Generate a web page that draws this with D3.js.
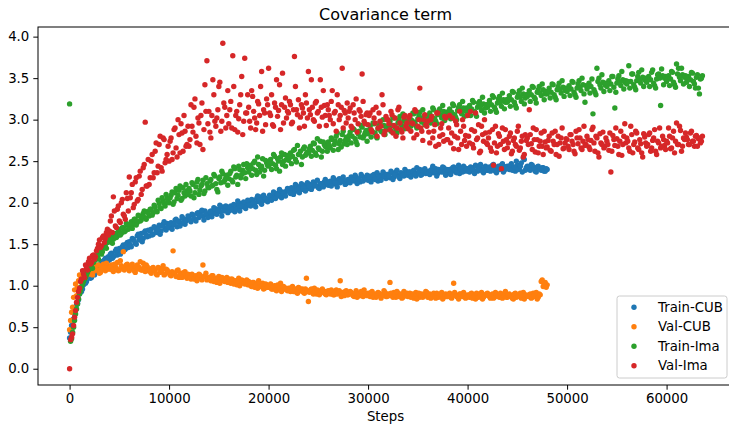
<!DOCTYPE html>
<html lang="en">
<head>
<meta charset="UTF-8">
<title>Covariance term</title>
<script src="https://d3js.org/d3.v7.min.js"></script>
<style>
    body { margin: 0; background: #fff; }
    svg { display: block; font-family: "DejaVu Sans", sans-serif; }
</style>
</head>
<body>
<div id="chart"></div>
<script>
// logged every 100 steps: "A" arrays hold the even hundreds, "B" arrays the odd ones
var stepsA = d3.range(0, 63601, 200);
var stepsB = d3.range(100, 63600, 200);

var trainCubA = [
    0.37, 0.52, 0.60, 0.73, 0.79, 0.90, 0.93, 1.01, 1.03, 1.09,
    1.12, 1.10, 1.18, 1.16, 1.23, 1.22, 1.29, 1.26, 1.33, 1.30,
    1.31, 1.39, 1.35, 1.42, 1.37, 1.45, 1.41, 1.49, 1.44, 1.52,
    1.53, 1.47, 1.56, 1.51, 1.60, 1.55, 1.63, 1.57, 1.66, 1.59,
    1.60, 1.68, 1.62, 1.70, 1.64, 1.73, 1.66, 1.74, 1.69, 1.75,
    1.70, 1.76, 1.73, 1.79, 1.71, 1.78, 1.75, 1.81, 1.74, 1.80,
    1.83, 1.77, 1.85, 1.80, 1.87, 1.82, 1.89, 1.84, 1.90, 1.85,
    1.85, 1.90, 1.88, 1.93, 1.86, 1.92, 1.89, 1.95, 1.91, 1.94,
    1.90, 1.96, 1.93, 1.89, 1.97, 1.94, 1.99, 1.95, 2.00, 1.97,
    2.01, 1.96, 2.03, 1.99, 2.05, 2.01, 2.07, 2.02, 2.06, 2.04,
    2.04, 2.08, 2.06, 2.11, 2.07, 2.12, 2.09, 2.13, 2.10, 2.14,
    2.15, 2.11, 2.17, 2.13, 2.19, 2.15, 2.20, 2.16, 2.21, 2.18,
    2.17, 2.22, 2.19, 2.24, 2.20, 2.18, 2.23, 2.21, 2.25, 2.22,
    2.21, 2.26, 2.23, 2.28, 2.22, 2.27, 2.24, 2.29, 2.25, 2.23,
    2.28, 2.24, 2.30, 2.26, 2.31, 2.27, 2.25, 2.32, 2.28, 2.30,
    2.27, 2.32, 2.29, 2.34, 2.30, 2.26, 2.33, 2.31, 2.35, 2.29,
    2.34, 2.30, 2.36, 2.31, 2.37, 2.33, 2.29, 2.35, 2.32, 2.38,
    2.33, 2.37, 2.35, 2.39, 2.32, 2.36, 2.40, 2.34, 2.38, 2.35,
    2.38, 2.34, 2.40, 2.36, 2.41, 2.35, 2.39, 2.37, 2.42, 2.33,
    2.36, 2.40, 2.38, 2.43, 2.37, 2.41, 2.35, 2.39, 2.44, 2.38,
    2.41, 2.37, 2.42, 2.39, 2.45, 2.38, 2.43, 2.40, 2.36, 2.44,
    2.39, 2.43, 2.41, 2.46, 2.38, 2.42, 2.40, 2.45, 2.37, 2.43,
    2.44, 2.40, 2.47, 2.42, 2.38, 2.45, 2.41, 2.48, 2.54, 2.39,
    2.44, 2.40, 2.46, 2.42, 2.38, 2.43, 2.41, 2.39, 2.42, 2.38,
    2.40
];
var trainCubB = [
    0.44, 0.58, 0.66, 0.77, 0.83, 0.92, 0.96, 1.04, 1.05, 1.11,
    1.09, 1.17, 1.13, 1.21, 1.25, 1.19, 1.24, 1.31, 1.27, 1.35,
    1.38, 1.33, 1.36, 1.44, 1.40, 1.38, 1.47, 1.43, 1.50, 1.46,
    1.49, 1.57, 1.54, 1.50, 1.62, 1.58, 1.53, 1.64, 1.61, 1.67,
    1.66, 1.61, 1.71, 1.65, 1.68, 1.62, 1.72, 1.77, 1.67, 1.71,
    1.75, 1.68, 1.74, 1.80, 1.77, 1.72, 1.83, 1.76, 1.78, 1.84,
    1.79, 1.86, 1.81, 1.78, 1.88, 1.84, 1.91, 1.79, 1.87, 1.82,
    1.89, 1.83, 1.94, 1.87, 1.91, 1.97, 1.84, 1.90, 1.96, 1.88,
    1.95, 1.91, 1.98, 1.92, 2.02, 1.90, 1.96, 2.01, 1.93, 2.03,
    1.97, 2.04, 2.00, 1.95, 2.08, 2.03, 1.98, 2.09, 2.05, 2.01,
    2.09, 2.03, 2.13, 2.05, 2.10, 2.16, 2.06, 2.11, 2.08, 2.17,
    2.13, 2.18, 2.10, 2.22, 2.16, 2.12, 2.23, 2.18, 2.14, 2.24,
    2.20, 2.16, 2.25, 2.21, 2.27, 2.17, 2.23, 2.19, 2.28, 2.24,
    2.25, 2.20, 2.30, 2.24, 2.19, 2.29, 2.26, 2.31, 2.22, 2.27,
    2.25, 2.31, 2.27, 2.33, 2.23, 2.29, 2.34, 2.26, 2.30, 2.33,
    2.31, 2.25, 2.33, 2.28, 2.36, 2.31, 2.27, 2.37, 2.32, 2.34,
    2.32, 2.38, 2.28, 2.34, 2.39, 2.31, 2.36, 2.33, 2.40, 2.35,
    2.37, 2.31, 2.38, 2.34, 2.42, 2.36, 2.33, 2.39, 2.41, 2.36,
    2.35, 2.39, 2.44, 2.37, 2.32, 2.40, 2.38, 2.43, 2.36, 2.40,
    2.39, 2.34, 2.42, 2.40, 2.36, 2.45, 2.41, 2.37, 2.42, 2.40,
    2.38, 2.43, 2.40, 2.35, 2.44, 2.41, 2.46, 2.38, 2.42, 2.39,
    2.42, 2.38, 2.45, 2.40, 2.36, 2.44, 2.41, 2.47, 2.39, 2.43,
    2.41, 2.45, 2.39, 2.43, 2.50, 2.40, 2.44, 2.37, 2.52, 2.42,
    2.43, 2.39, 2.45, 2.41, 2.37, 2.44, 2.40, 2.42, 2.38, 2.41
];

var valCubA = [
    0.47, 0.68, 0.86, 1.02, 0.98, 1.13, 1.08, 1.15, 1.10, 1.17,
    1.14, 1.21, 1.17, 1.24, 1.19, 1.15, 1.22, 1.26, 1.18, 1.23,
    1.20, 1.25, 1.17, 1.23, 1.28, 1.19, 1.24, 1.41, 1.21, 1.26,
    1.18, 1.24, 1.21, 1.16, 1.25, 1.22, 1.19, 1.27, 1.17, 1.23,
    1.20, 1.15, 1.22, 1.18, 1.13, 1.21, 1.17, 1.24, 1.14, 1.19,
    1.16, 1.12, 1.42, 1.14, 1.18, 1.10, 1.15, 1.11, 1.17, 1.09,
    1.13, 1.08, 1.12, 1.10, 1.06, 1.14, 1.09, 1.25, 1.11, 1.07,
    1.10, 1.06, 1.12, 1.08, 1.04, 1.11, 1.07, 1.09, 1.05, 1.10,
    1.08, 1.03, 1.07, 1.05, 1.01, 1.09, 1.04, 1.06, 1.02, 1.07,
    1.05, 1.00, 1.04, 0.98, 1.02, 1.06, 0.99, 1.03, 0.97, 1.01,
    0.98, 1.02, 0.96, 1.00, 0.94, 0.99, 1.03, 0.95, 0.98, 0.96,
    0.97, 0.93, 0.99, 0.95, 0.92, 0.98, 0.94, 0.96, 0.91, 1.09,
    0.81, 0.95, 0.92, 0.97, 0.90, 0.94, 0.91, 0.96, 0.93, 0.89,
    0.94, 0.90, 0.93, 0.89, 0.95, 0.91, 1.06, 0.92, 0.88, 0.94,
    0.89, 0.93, 0.90, 0.87, 0.94, 0.91, 0.88, 0.92, 0.95, 0.89,
    0.91, 0.87, 0.93, 0.89, 0.86, 0.92, 0.90, 0.88, 0.94, 0.87,
    0.90, 1.04, 0.88, 0.92, 0.86, 0.91, 0.89, 0.85, 0.93, 0.88,
    0.87, 0.91, 0.88, 0.85, 0.92, 0.89, 0.86, 0.90, 0.88, 0.93,
    0.86, 0.90, 0.87, 0.91, 0.85, 0.89, 0.88, 0.92, 0.86, 0.90,
    0.87, 0.91, 0.85, 1.03, 0.89, 0.86, 0.90, 0.88, 0.92, 0.85,
    0.89, 0.86, 0.91, 0.88, 0.84, 0.90, 0.87, 0.92, 0.86, 0.89,
    0.91, 0.87, 0.89, 0.85, 0.92, 0.88, 0.86, 0.90, 0.87, 0.93,
    0.86, 0.90, 0.88, 0.84, 0.91, 0.87, 0.89, 0.85, 0.92, 0.88,
    0.88, 0.89, 0.85, 0.91, 0.87, 0.84, 0.90, 1.05, 0.99, 1.04,
    1.01
];
var valCubB = [
    0.58, 0.74, 0.95, 0.88, 1.06, 1.12, 1.03, 1.18, 1.13, 1.20,
    1.18, 1.13, 1.22, 1.19, 1.25, 1.16, 1.21, 1.23, 1.27, 1.20,
    1.23, 1.19, 1.26, 1.21, 1.18, 1.30, 1.22, 1.19, 1.25, 1.21,
    1.21, 1.26, 1.18, 1.23, 1.20, 1.29, 1.19, 1.22, 1.25, 1.18,
    1.17, 1.21, 1.19, 1.14, 1.22, 1.16, 1.19, 1.13, 1.20, 1.17,
    1.13, 1.17, 1.15, 1.11, 1.19, 1.13, 1.10, 1.16, 1.12, 1.14,
    1.10, 1.14, 1.08, 1.12, 1.09, 1.13, 1.07, 1.11, 1.15, 1.08,
    1.08, 1.12, 1.05, 1.09, 1.07, 1.03, 1.10, 1.06, 1.08, 1.04,
    1.05, 1.08, 1.02, 1.06, 1.04, 1.00, 1.07, 1.03, 1.05, 1.01,
    1.02, 0.99, 1.04, 1.01, 0.97, 1.03, 1.00, 0.96, 1.02, 0.98,
    1.00, 0.96, 0.99, 0.95, 1.01, 0.97, 0.93, 0.99, 0.96, 0.94,
    0.95, 0.98, 0.93, 0.96, 0.91, 0.97, 0.94, 0.92, 0.96, 0.93,
    0.92, 0.96, 0.90, 0.93, 0.95, 0.89, 0.92, 0.94, 0.90, 0.93,
    0.91, 0.95, 0.89, 0.92, 0.90, 0.94, 0.87, 0.91, 0.93, 0.89,
    0.90, 0.92, 0.88, 0.91, 0.86, 0.90, 0.93, 0.87, 0.91, 0.88,
    0.89, 0.92, 0.86, 0.90, 0.88, 0.91, 0.85, 0.89, 0.92, 0.87,
    0.88, 0.91, 0.86, 0.89, 0.93, 0.87, 0.90, 0.86, 0.88, 0.91,
    0.89, 0.86, 0.90, 0.87, 0.84, 0.91, 0.88, 0.86, 0.89, 0.92,
    0.88, 0.85, 0.89, 0.87, 0.91, 0.86, 0.90, 0.84, 0.88, 0.87,
    0.89, 0.86, 0.88, 0.92, 0.87, 0.84, 0.90, 0.87, 0.89, 0.86,
    0.87, 0.90, 0.85, 0.88, 0.91, 0.86, 0.89, 0.84, 0.88, 0.90,
    0.88, 0.85, 0.90, 0.86, 0.89, 0.87, 0.91, 0.85, 0.88, 0.86,
    0.89, 0.87, 0.85, 0.90, 0.86, 0.88, 0.91, 0.87, 0.84, 0.89,
    0.87, 0.90, 0.86, 0.88, 0.92, 0.86, 0.89, 1.07, 1.02, 0.98
];

var trainImaA = [
    3.19, 0.36, 0.50, 0.66, 0.78, 0.90, 0.99, 1.05, 1.10, 1.16,
    1.20, 1.26, 1.28, 1.33, 1.34, 1.40, 1.38, 1.46, 1.47, 1.52,
    1.53, 1.58, 1.56, 1.63, 1.60, 1.66, 1.63, 1.70, 1.66, 1.73,
    1.70, 1.77, 1.74, 1.80, 1.76, 1.84, 1.79, 1.87, 1.82, 1.89,
    1.84, 1.92, 1.88, 1.95, 1.89, 1.99, 1.93, 2.02, 1.96, 2.05,
    2.00, 2.09, 1.98, 2.12, 2.05, 2.15, 2.03, 2.18, 2.08, 2.14,
    2.17, 2.08, 2.22, 2.12, 2.25, 2.10, 2.20, 2.27, 2.14, 2.23,
    2.18, 2.28, 2.21, 2.32, 2.16, 2.29, 2.24, 2.35, 2.27, 2.33,
    2.29, 2.38, 2.25, 2.41, 2.33, 2.44, 2.30, 2.39, 2.36, 2.47,
    2.37, 2.45, 2.41, 2.50, 2.34, 2.46, 2.42, 2.53, 2.39, 2.48,
    2.44, 2.52, 2.47, 2.56, 2.41, 2.50, 2.55, 2.46, 2.58, 2.52,
    2.51, 2.60, 2.56, 2.64, 2.49, 2.58, 2.62, 2.55, 2.67, 2.59,
    2.60, 2.68, 2.63, 2.71, 2.57, 2.66, 2.74, 2.62, 2.70, 2.67,
    2.73, 2.66, 2.76, 2.70, 2.80, 2.64, 2.75, 2.82, 2.71, 2.79,
    2.76, 2.85, 2.80, 2.88, 2.73, 2.83, 2.79, 2.91, 2.81, 2.87,
    2.83, 2.92, 2.86, 2.95, 2.80, 2.89, 2.97, 2.85, 2.93, 2.88,
    2.90, 2.98, 2.93, 3.02, 2.87, 2.96, 3.04, 2.92, 2.99, 2.95,
    2.96, 3.03, 2.99, 3.07, 2.93, 3.01, 3.09, 2.97, 3.04, 3.00,
    3.01, 3.08, 3.04, 3.12, 2.98, 3.06, 3.13, 3.02, 3.10, 3.05,
    3.06, 3.13, 3.09, 3.17, 3.03, 3.11, 3.18, 3.07, 3.14, 3.10,
    3.10, 3.17, 3.13, 3.21, 3.07, 3.15, 3.22, 3.11, 3.19, 3.14,
    3.15, 3.23, 3.18, 3.27, 3.12, 3.20, 3.28, 3.16, 3.24, 3.21,
    3.21, 3.29, 3.24, 3.33, 3.17, 3.27, 3.35, 3.22, 3.31, 3.26,
    3.28, 3.35, 3.30, 3.39, 3.25, 3.33, 3.40, 3.29, 3.36, 3.31,
    3.31, 3.38, 3.33, 3.42, 3.27, 3.36, 3.44, 3.32, 3.39, 3.35,
    3.34, 3.41, 3.37, 3.45, 3.30, 3.38, 3.47, 3.35, 3.42, 3.21,
    3.37, 3.44, 3.40, 3.07, 3.33, 3.62, 3.50, 3.38, 3.45, 3.42,
    3.40, 3.47, 3.43, 3.52, 3.14, 3.44, 3.53, 3.41, 3.48, 3.45,
    3.43, 3.65, 3.46, 3.55, 3.39, 3.47, 3.57, 3.44, 3.51, 3.48,
    3.45, 3.52, 3.48, 3.60, 3.41, 3.49, 3.55, 3.17, 3.53, 3.50,
    3.46, 3.53, 3.49, 3.57, 3.42, 3.67, 3.62, 3.47, 3.54, 3.51,
    3.45, 3.52, 3.48, 3.56, 3.43, 3.51, 3.38, 3.49, 3.53
];
var trainImaB = [
    0.33, 0.44, 0.58, 0.72, 0.84, 0.94, 1.02, 1.08, 1.13, 1.19,
    1.24, 1.21, 1.30, 1.36, 1.32, 1.43, 1.41, 1.49, 1.45, 1.55,
    1.57, 1.51, 1.62, 1.58, 1.68, 1.61, 1.70, 1.65, 1.75, 1.68,
    1.74, 1.69, 1.80, 1.73, 1.85, 1.78, 1.83, 1.90, 1.80, 1.88,
    1.92, 1.85, 1.97, 1.90, 2.03, 1.94, 2.06, 1.99, 2.10, 2.01,
    2.06, 2.13, 2.01, 2.17, 2.09, 2.20, 2.05, 2.12, 2.22, 2.10,
    2.14, 2.24, 2.06, 2.19, 2.28, 2.15, 2.22, 2.11, 2.30, 2.19,
    2.26, 2.20, 2.34, 2.23, 2.13, 2.31, 2.38, 2.25, 2.30, 2.21,
    2.35, 2.27, 2.43, 2.31, 2.22, 2.40, 2.34, 2.46, 2.29, 2.42,
    2.43, 2.33, 2.48, 2.39, 2.55, 2.37, 2.44, 2.32, 2.51, 2.45,
    2.49, 2.40, 2.58, 2.45, 2.53, 2.38, 2.60, 2.50, 2.44, 2.57,
    2.54, 2.47, 2.63, 2.52, 2.69, 2.58, 2.46, 2.65, 2.57, 2.61,
    2.65, 2.56, 2.72, 2.60, 2.77, 2.64, 2.55, 2.73, 2.68, 2.62,
    2.69, 2.78, 2.63, 2.74, 2.84, 2.71, 2.67, 2.86, 2.75, 2.70,
    2.81, 2.72, 2.89, 2.77, 2.70, 2.86, 2.93, 2.78, 2.84, 2.74,
    2.87, 2.79, 2.96, 2.84, 2.78, 2.93, 2.86, 3.00, 2.82, 2.91,
    2.94, 2.86, 3.03, 2.91, 2.84, 3.00, 2.95, 3.07, 2.89, 2.98,
    3.00, 2.92, 3.08, 2.97, 2.90, 3.06, 3.01, 3.12, 2.94, 3.04,
    3.05, 2.96, 3.14, 3.01, 2.95, 3.10, 3.06, 3.17, 2.99, 3.09,
    3.10, 3.01, 3.19, 3.06, 3.00, 3.15, 3.11, 3.22, 3.04, 3.14,
    3.14, 3.05, 3.23, 3.10, 3.04, 3.20, 3.16, 3.27, 3.08, 3.18,
    3.19, 3.10, 3.29, 3.15, 3.09, 3.25, 3.21, 3.32, 3.13, 3.24,
    3.25, 3.16, 3.34, 3.21, 3.14, 3.31, 3.27, 3.38, 3.19, 3.30,
    3.31, 3.22, 3.40, 3.27, 3.20, 3.36, 3.32, 3.43, 3.24, 3.34,
    3.34, 3.26, 3.43, 3.30, 3.24, 3.40, 3.36, 3.47, 3.28, 3.38,
    3.37, 3.29, 3.46, 3.33, 3.27, 3.43, 3.39, 3.50, 3.31, 3.41,
    3.40, 3.32, 3.49, 3.36, 3.30, 3.46, 3.42, 3.54, 3.34, 3.44,
    3.43, 3.35, 3.52, 3.39, 3.33, 3.49, 3.45, 3.58, 3.37, 3.47,
    3.46, 3.38, 3.55, 3.42, 3.36, 3.52, 3.48, 3.60, 3.40, 3.50,
    3.48, 3.40, 3.57, 3.44, 3.38, 3.54, 3.50, 3.61, 3.42, 3.52,
    3.49, 3.41, 3.58, 3.45, 3.39, 3.55, 3.51, 3.62, 3.43, 3.53,
    3.48, 3.40, 3.57, 3.46, 3.38, 3.54, 3.31, 3.50
];

var valImaA = [
    0.00, 0.38, 0.52, 0.70, 0.86, 0.97, 1.08, 1.14, 1.25, 1.19,
    1.33, 1.28, 1.37, 1.35, 1.45, 1.55, 1.48, 1.60, 1.57, 1.68,
    1.66, 1.84, 2.07, 1.72, 1.92, 1.78, 2.00, 1.86, 1.80, 2.05,
    2.31, 2.12, 1.94, 2.25, 2.02, 2.32, 2.10, 2.42, 2.97, 2.20,
    2.22, 2.50, 2.30, 2.62, 2.36, 2.70, 2.42, 2.78, 2.48, 2.58,
    2.50, 2.78, 2.60, 2.90, 2.55, 2.82, 2.95, 2.62, 2.86, 2.70,
    2.68, 3.18, 2.85, 3.25, 2.72, 2.96, 3.05, 2.64, 3.42, 3.71,
    3.10, 2.78, 3.48, 2.98, 3.02, 3.40, 2.86, 3.92, 3.15, 3.05,
    2.95, 3.22, 3.77, 2.88, 3.10, 3.01, 3.30, 2.82, 3.74, 3.08,
    3.15, 2.90, 3.28, 3.02, 2.96, 3.19, 3.40, 2.86, 3.08, 3.25,
    3.62, 3.05, 2.94, 3.20, 3.48, 3.11, 2.88, 3.56, 3.15, 3.02,
    3.08, 3.18, 2.97, 3.76, 3.12, 3.24, 3.03, 3.14, 2.92, 3.20,
    3.58, 3.06, 3.15, 2.98, 3.22, 3.10, 3.48, 3.03, 3.17, 2.93,
    3.12, 3.00, 3.35, 3.08, 2.86, 3.18, 3.05, 3.62, 3.11, 2.96,
    3.02, 3.14, 2.90, 3.08, 3.25, 2.95, 3.10, 3.55, 2.98, 3.06,
    2.94, 3.08, 2.85, 3.02, 3.15, 2.90, 2.98, 3.30, 2.82, 3.04,
    3.00, 2.88, 3.06, 2.93, 2.80, 3.12, 2.96, 2.85, 3.03, 2.92,
    2.89, 3.05, 2.96, 2.78, 3.10, 2.92, 3.38, 2.86, 3.00, 2.94,
    2.98, 2.72, 3.04, 2.86, 2.68, 3.08, 2.80, 2.95, 2.74, 3.02,
    2.76, 3.05, 2.84, 2.65, 2.98, 2.78, 3.10, 2.70, 2.92, 2.81,
    3.05, 2.72, 2.88, 2.66, 3.08, 2.78, 2.60, 2.92, 2.74, 2.84,
    2.70, 2.85, 2.62, 2.45, 2.92, 2.68, 2.80, 2.41, 2.74, 2.88,
    2.66, 2.80, 2.59, 2.75, 2.70, 2.86, 2.63, 2.74, 2.55, 2.82,
    2.78, 3.12, 2.71, 2.90, 2.61, 2.76, 2.68, 2.84, 2.58, 2.73,
    2.67, 2.80, 2.62, 2.74, 2.86, 2.70, 2.56, 2.78, 2.65, 2.72,
    2.76, 2.64, 2.82, 2.70, 2.59, 2.78, 2.88, 2.66, 2.74, 2.69,
    2.80, 2.67, 2.75, 2.91, 2.62, 2.78, 2.55, 2.72, 2.85, 2.68,
    2.74, 2.63, 2.37, 2.81, 2.69, 2.77, 2.58, 2.86, 2.70, 2.95,
    2.78, 2.66, 2.92, 2.60, 2.73, 2.84, 2.64, 2.71, 2.55, 2.79,
    2.68, 2.82, 2.62, 2.75, 2.88, 2.58, 2.72, 2.66, 2.80, 2.69,
    2.74, 2.90, 2.65, 2.78, 2.60, 2.96, 2.70, 2.87, 2.68, 2.76,
    2.79, 2.70, 2.84, 2.74, 2.68, 2.81, 2.77, 2.72, 2.80
];
var valImaB = [
    0.35, 0.42, 0.62, 0.80, 0.93, 1.05, 1.18, 1.10, 1.22, 1.29,
    1.26, 1.36, 1.32, 1.42, 1.50, 1.46, 1.58, 1.52, 1.64, 1.61,
    1.78, 1.64, 1.90, 1.70, 1.96, 1.76, 2.04, 1.84, 2.12, 1.90,
    2.06, 2.22, 1.98, 2.30, 2.04, 2.38, 2.16, 2.46, 2.20, 2.52,
    2.30, 2.58, 2.36, 2.72, 2.44, 2.80, 2.38, 2.76, 2.52, 2.68,
    2.74, 2.52, 2.88, 2.66, 3.00, 2.60, 2.84, 3.05, 2.68, 2.92,
    2.76, 2.92, 3.15, 2.80, 3.02, 2.70, 3.20, 2.88, 3.10, 2.95,
    2.85, 3.05, 3.30, 2.92, 3.12, 3.45, 2.98, 3.20, 2.90, 3.35,
    3.12, 2.90, 3.40, 3.05, 2.85, 3.18, 3.52, 2.98, 3.08, 3.30,
    2.98, 3.35, 3.10, 2.88, 3.22, 3.05, 3.58, 3.12, 2.94, 3.18,
    3.08, 3.30, 2.92, 3.15, 3.04, 3.42, 3.18, 2.96, 3.26, 3.10,
    3.22, 2.95, 3.12, 3.40, 3.06, 2.90, 3.18, 3.08, 3.30, 3.02,
    3.12, 3.48, 3.00, 3.20, 3.08, 2.92, 3.15, 3.35, 3.05, 3.18,
    3.05, 3.22, 2.95, 3.10, 3.30, 3.00, 3.15, 2.90, 3.08, 3.20,
    3.10, 2.92, 3.18, 3.00, 2.85, 3.12, 3.04, 3.22, 2.95, 3.08,
    3.05, 2.88, 3.12, 2.96, 2.80, 3.08, 2.92, 3.18, 2.86, 3.00,
    2.95, 3.10, 2.84, 3.02, 2.90, 3.15, 2.88, 2.78, 3.05, 2.96,
    3.02, 2.86, 2.95, 3.12, 2.82, 3.00, 2.90, 2.75, 3.06, 2.92,
    2.85, 3.00, 2.78, 2.94, 3.08, 2.70, 2.90, 2.82, 3.04, 2.76,
    2.90, 2.72, 3.02, 2.80, 2.94, 2.64, 2.86, 3.00, 2.75, 2.68,
    2.80, 3.10, 2.70, 2.86, 2.76, 2.94, 2.62, 2.82, 3.00, 2.72,
    2.78, 2.66, 2.88, 2.72, 2.60, 2.83, 2.70, 2.90, 2.64, 2.76,
    2.72, 2.84, 2.62, 2.78, 2.68, 2.92, 2.66, 2.80, 2.58, 2.75,
    2.70, 2.82, 2.64, 2.76, 2.88, 2.60, 2.74, 2.68, 2.86, 2.66,
    2.75, 2.63, 2.84, 2.70, 2.58, 2.80, 2.72, 2.90, 2.66, 2.77,
    2.68, 2.82, 2.74, 2.62, 2.86, 2.71, 2.78, 2.64, 2.92, 2.70,
    2.76, 2.64, 2.88, 2.72, 2.80, 2.60, 2.83, 2.70, 2.66, 2.78,
    2.70, 2.84, 2.62, 2.76, 2.90, 2.68, 2.74, 2.57, 2.80, 2.72,
    2.74, 2.62, 2.82, 2.70, 2.86, 2.66, 2.76, 2.60, 2.83, 2.72,
    2.70, 2.84, 2.66, 2.78, 2.62, 2.74, 2.90, 2.68, 2.76, 2.64,
    2.72, 2.80, 2.66, 2.86, 2.74, 2.70, 2.92, 2.62, 2.78, 2.84,
    2.76, 2.70, 2.86, 2.74, 2.80, 2.68, 2.78, 2.74
];

var seriesNames = ["Train-CUB", "Val-CUB", "Train-Ima", "Val-Ima"];
var seriesA = [trainCubA, valCubA, trainImaA, valImaA];
var seriesB = [trainCubB, valCubB, trainImaB, valImaB];
var colors = ["#1f77b4", "#ff7f0e", "#2ca02c", "#d62728"];
var xTicks = [0, 10000, 20000, 30000, 40000, 50000, 60000];
var yTicks = [0, 0.5, 1, 1.5, 2, 2.5, 3, 3.5, 4];

var width = 729,
    height = 424,
    plotLeft = 38,
    plotTop = 27,
    plotRight = 733,   // axes run past the picture edge
    plotBottom = 385;

var svg = d3.select("#chart")
    .append("svg")
    .attr("width", width)
    .attr("height", height);

var x = d3.scaleLinear()
    .domain([-3175, 66675])
    .range([plotLeft, plotRight]);

var y = d3.scaleLinear()
    .domain([-0.196, 4.116])
    .range([plotBottom, plotTop]);

// pair each value with its step, one group per series, red drawn last
seriesNames.forEach(function(name, k) {
    var pts = seriesA[k].map(function(v, i) { return [stepsA[i], v]; })
        .concat(seriesB[k].map(function(v, i) { return [stepsB[i], v]; }));

    svg.append("g")
        .attr("fill", colors[k])
        .selectAll("circle")
        .data(pts)
        .enter().append("circle")
        .attr("cx", function(d) { return x(d[0]); })
        .attr("cy", function(d) { return y(d[1]); })
        .attr("r", 2.7);
});

// axes
var xAxis = svg.append("g")
    .attr("transform", "translate(0," + plotBottom + ")")
    .call(d3.axisBottom(x).tickValues(xTicks).tickFormat(d3.format("d")).tickSize(4.7).tickPadding(4));

var yAxis = svg.append("g")
    .attr("transform", "translate(" + plotLeft + ",0)")
    .call(d3.axisLeft(y).tickValues(yTicks).tickFormat(d3.format(".1f")).tickSize(4.7).tickPadding(4));

[xAxis, yAxis].forEach(function(a) {
    a.select(".domain").remove();
    a.selectAll("line").attr("stroke", "#000").attr("stroke-width", 1);
    a.selectAll("text")
        .attr("fill", "#000")
        .style("font-size", "13.3px")
        .style("font-family", "DejaVu Sans");
});

// spines
svg.append("rect")
    .attr("x", plotLeft)
    .attr("y", plotTop)
    .attr("width", plotRight - plotLeft)
    .attr("height", plotBottom - plotTop)
    .attr("fill", "none")
    .attr("stroke", "#000")
    .attr("stroke-width", 1);

svg.append("text")
    .attr("x", (plotLeft + plotRight) / 2)
    .attr("y", 20)
    .attr("text-anchor", "middle")
    .style("font-size", "16px")
    .text("Covariance term");

svg.append("text")
    .attr("x", (plotLeft + plotRight) / 2)
    .attr("y", 421)
    .attr("text-anchor", "middle")
    .style("font-size", "13.3px")
    .text("Steps");

// legend
var legend = svg.append("g");

legend.append("rect")
    .attr("x", 617)
    .attr("y", 296)
    .attr("width", 110)
    .attr("height", 82)
    .attr("rx", 2.5)
    .attr("fill", "#fff")
    .attr("fill-opacity", 0.8)
    .attr("stroke", "#cccccc")
    .attr("stroke-width", 1);

var item = legend.selectAll(".item")
    .data(seriesNames)
    .enter().append("g")
    .attr("class", "item")
    .attr("transform", function(d, i) { return "translate(0," + (307.3 + i * 19.5) + ")"; });

item.append("circle")
    .attr("cx", 634)
    .attr("cy", 0)
    .attr("r", 2.7)
    .attr("fill", function(d, i) { return colors[i]; });

item.append("text")
    .attr("x", 658)
    .attr("dy", "0.35em")
    .style("font-size", "13.3px")
    .text(function(d) { return d; });
</script>
</body>
</html>
